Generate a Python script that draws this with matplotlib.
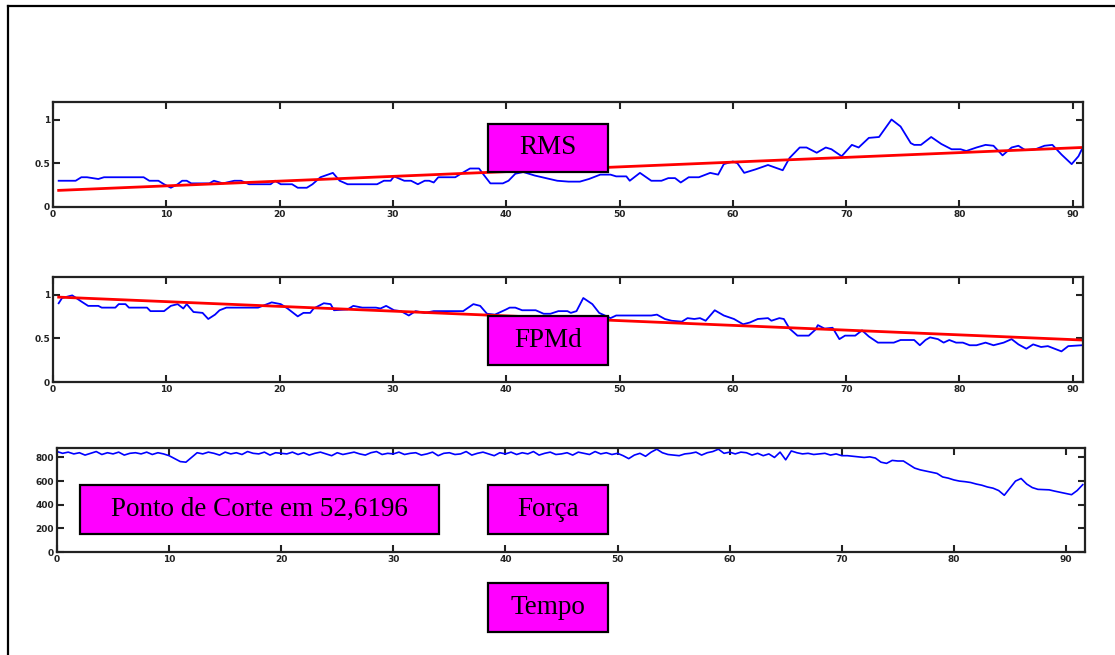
import numpy as np
import matplotlib
matplotlib.use('Agg')
import matplotlib.pyplot as plt
from matplotlib.patches import Rectangle
from matplotlib.lines import Line2D

# --- dados ---
rms_t = [0.5, 1, 2, 2.5, 3, 4, 4.5, 5, 6, 7, 8, 8.5, 9.3, 9.8, 10.4, 11, 11.4, 11.8, 12.2, 13, 13.8,
         14.2, 15, 16, 16.6, 17.3, 18, 19.2, 19.6, 20.1, 21.1, 21.6, 22.4, 22.9, 23.6, 24.7, 25.3,
         26, 27, 28, 28.6, 29.2, 29.8, 30.1, 31, 31.6, 32.2, 32.8, 33.2, 33.6, 34, 35, 35.5, 36, 36.8,
         37.6, 38, 38.6, 39, 39.7, 40.2, 40.8, 41.5, 42.5, 43.5, 44.5, 45.5, 46.5, 47.3, 48.3, 49.2,
         49.7, 50.6, 50.9, 51.8, 52.8, 53.7, 54.3, 54.9, 55.4, 56.1, 57, 58, 58.7, 59.2, 60, 60.4, 61,
         62, 63.1, 64.4, 65, 65.9, 66.5, 67.4, 68.2, 68.7, 69.6, 70.5, 71.1, 72, 72.9, 74, 74.8, 75.7,
         76, 76.6, 77.5, 78.4, 79.3, 80.1, 80.6, 81.5, 82.3, 83, 83.8, 84.6, 85.2, 85.8, 86.7, 87.5,
         88.2, 89, 89.9, 90.5, 90.8]
rms_v = [0.30, 0.30, 0.30, 0.34, 0.34, 0.32, 0.34, 0.34, 0.34, 0.34, 0.34, 0.30, 0.30, 0.26, 0.22, 0.26,
         0.30, 0.30, 0.27, 0.27, 0.27, 0.30, 0.27, 0.30, 0.30, 0.26, 0.26, 0.26, 0.30, 0.26, 0.26, 0.22,
         0.22, 0.26, 0.34, 0.39, 0.30, 0.26, 0.26, 0.26, 0.26, 0.30, 0.30, 0.35, 0.30, 0.30, 0.26, 0.30,
         0.30, 0.28, 0.34, 0.34, 0.34, 0.38, 0.44, 0.44, 0.37, 0.27, 0.27, 0.27, 0.30, 0.38, 0.40, 0.36,
         0.33, 0.30, 0.29, 0.29, 0.32, 0.37, 0.37, 0.35, 0.35, 0.30, 0.39, 0.30, 0.30, 0.33, 0.33, 0.28,
         0.34, 0.34, 0.39, 0.37, 0.49, 0.52, 0.50, 0.39, 0.43, 0.48, 0.42, 0.56, 0.68, 0.68, 0.62, 0.68,
         0.66, 0.58, 0.71, 0.68, 0.79, 0.80, 1.00, 0.92, 0.73, 0.71, 0.71, 0.80, 0.72, 0.66, 0.66, 0.64,
         0.68, 0.71, 0.70, 0.59, 0.68, 0.70, 0.65, 0.66, 0.70, 0.71, 0.60, 0.49, 0.58, 0.66]
rms_fit_t = [0.5, 90.8]
rms_fit_v = [0.19, 0.68]

fpmd_t = [0.5, 0.8, 1.7, 2.5, 3.1, 4, 4.3, 5.5, 5.8, 6.4, 6.7, 8.3, 8.6, 9.8, 10.4, 11, 11.5, 11.8,
          12.4, 13.2, 13.7, 14.3, 14.7, 15.3, 18.1, 19.3, 20.1, 20.7, 21.6, 22.1, 22.7, 23, 23.9, 24.5,
          24.8, 26, 26.5, 27.3, 28.5, 28.9, 29.4, 30.1, 30.7, 31.4, 32, 32.8, 33.6, 36.2, 37.1, 37.7,
          38.3, 39, 40, 40.3, 40.8, 41.4, 42.6, 43.3, 43.9, 44.6, 45.4, 45.7, 46.2, 46.8, 47.6, 48.2,
          49.2, 49.7, 52.8, 53.3, 54, 54.6, 55.5, 56, 56.6, 57.1, 57.6, 58.4, 59.2, 60.1, 60.9, 61.5,
          62.2, 63.1, 63.4, 64.1, 64.5, 65, 65.7, 66.7, 67.3, 67.5, 68.1, 68.8, 69.4, 69.9, 70.8, 71.4,
          72, 72.8, 74.2, 74.8, 76, 76.5, 77, 77.4, 78.1, 78.6, 79.1, 79.7, 80.3, 80.9, 81.5, 82.3, 83,
          83.9, 84.6, 85.2, 85.9, 86.5, 87.2, 87.8, 88.4, 89, 89.6, 90.8]
fpmd_v = [0.90, 0.96, 0.99, 0.92, 0.87, 0.87, 0.85, 0.85, 0.89, 0.89, 0.85, 0.85, 0.81, 0.81, 0.87, 0.89,
          0.84, 0.89, 0.80, 0.79, 0.72, 0.77, 0.82, 0.85, 0.85, 0.91, 0.89, 0.84, 0.75, 0.79, 0.79, 0.84,
          0.90, 0.89, 0.82, 0.83, 0.87, 0.85, 0.85, 0.84, 0.87, 0.82, 0.81, 0.76, 0.81, 0.79, 0.81, 0.81,
          0.89, 0.87, 0.78, 0.77, 0.83, 0.85, 0.85, 0.82, 0.82, 0.78, 0.78, 0.81, 0.81, 0.79, 0.81, 0.96,
          0.89, 0.79, 0.73, 0.76, 0.76, 0.77, 0.72, 0.70, 0.69, 0.73, 0.72, 0.73, 0.70, 0.82, 0.76, 0.72,
          0.66, 0.68, 0.72, 0.73, 0.70, 0.73, 0.72, 0.61, 0.53, 0.53, 0.60, 0.65, 0.61, 0.62, 0.49, 0.53,
          0.53, 0.59, 0.52, 0.45, 0.45, 0.48, 0.48, 0.42, 0.48, 0.51, 0.49, 0.45, 0.48, 0.45, 0.45, 0.42,
          0.42, 0.45, 0.42, 0.45, 0.49, 0.43, 0.38, 0.43, 0.40, 0.41, 0.38, 0.35, 0.41, 0.42]
fpmd_fit_t = [0.5, 90.8]
fpmd_fit_v = [0.97, 0.48]

force_dt = 0.5
force_v = [850, 835, 845, 830, 840, 820, 835, 850, 825, 840, 830, 845, 820, 835, 840, 830, 845, 825, 840, 830, 815,
           790, 765, 760, 800, 840,
           830, 845, 835, 820, 845, 830, 840, 825, 850, 835, 830, 845, 820, 840, 835,
           830, 845, 825, 840, 820, 835, 845, 830, 815, 840, 825, 835, 845, 830, 820, 840, 850, 825, 835, 830,
           845, 825, 835, 840, 820, 830, 845, 815, 835, 840, 825, 830, 850, 820, 835, 845, 830, 815, 840, 830,
           845, 825, 840, 830, 850, 820, 835, 845, 825, 830, 840, 820, 845, 835, 825, 850, 830, 840, 825, 835,
           815, 790, 820, 835, 810, 845, 870, 840, 825, 820, 815, 830, 835, 845, 820, 840, 850, 870, 835, 845,
           830, 845, 840, 820, 835, 815, 830, 800, 845, 780, 855, 840, 830, 835, 825, 830, 835, 820, 830, 815,
           815, 810, 805, 800, 805, 795, 760, 750, 775, 770, 770, 740, 710, 695, 685, 675, 665, 635, 625, 610,
           600, 595, 588, 575, 565, 550, 540, 520, 480, 540, 600, 622, 575, 545, 530, 528, 526, 515, 505, 495,
           485, 520, 570]
force_t = np.arange(len(force_v)) * force_dt

x_ticks = [0, 10, 20, 30, 40, 50, 60, 70, 80, 90]
y_ticks_small = [0, 0.5, 1]
y_ticks_force = [0, 200, 400, 600, 800]

W, H = 1115, 655
fig = plt.figure(figsize=(W / 100, H / 100), dpi=100)


def px_axes(x0, y0, x1, y1):
    return fig.add_axes([x0 / W, 1 - y1 / H, (x1 - x0) / W, (y1 - y0) / H])


def style(ax, yticks):
    ax.set_xticks(x_ticks)
    ax.set_yticks(yticks)
    ax.set_yticklabels([('%g' % v) for v in yticks])
    ax.tick_params(direction='in', length=5, width=1.5, top=True, right=True,
                   labelsize=6.5, pad=2, colors='#222222')
    for lbl in ax.get_xticklabels() + ax.get_yticklabels():
        lbl.set_fontweight('bold')
    for s in ax.spines.values():
        s.set_linewidth(1.6)
        s.set_color('#222222')


ax1 = px_axes(53, 102, 1083, 207)
ax1.plot(rms_t, rms_v, color='#0000ff', lw=1.3)
ax1.plot(rms_fit_t, rms_fit_v, color='#ff0000', lw=2)
ax1.set_xlim(0, 90.9)
ax1.set_ylim(0, 1.2)
style(ax1, y_ticks_small)

ax2 = px_axes(53, 277, 1083, 382)
ax2.plot(fpmd_t, fpmd_v, color='#0000ff', lw=1.3)
ax2.plot(fpmd_fit_t, fpmd_fit_v, color='#ff0000', lw=2)
ax2.set_xlim(0, 90.9)
ax2.set_ylim(0, 1.2)
style(ax2, y_ticks_small)

ax3 = px_axes(57, 448, 1085, 552)
ax3.plot(force_t, force_v, color='#0000ff', lw=1.2)
ax3.set_xlim(0, 91.7)
ax3.set_ylim(0, 880)
style(ax3, y_ticks_force)


def label_box(x0, y0, x1, y1, text):
    fig.add_artist(Rectangle((x0 / W, 1 - y1 / H), (x1 - x0) / W, (y1 - y0) / H,
                             transform=fig.transFigure, facecolor='#ff00ff',
                             edgecolor='black', lw=1.6, zorder=10))
    fig.text((x0 + x1) / 2 / W, 1 - (y0 + y1) / 2 / H, text, ha='center', va='center',
             family='Liberation Serif', fontsize=19.5, zorder=11)


label_box(488, 124, 608, 172, 'RMS')
label_box(488, 316, 608, 365, 'FPMd')
label_box(80, 485, 439, 534, 'Ponto de Corte em 52,6196')
label_box(488, 485, 608, 534, 'Força')
label_box(488, 583, 608, 632, 'Tempo')

# moldura externa (só esquerda e topo aparecem)
fig.add_artist(Line2D([8 / W, 8 / W], [0, 1 - 6 / H], transform=fig.transFigure, color='black', lw=1.6))
fig.add_artist(Line2D([8 / W, 1], [1 - 6 / H, 1 - 6 / H], transform=fig.transFigure, color='black', lw=1.6))

fig.savefig('out.png', dpi=100)
